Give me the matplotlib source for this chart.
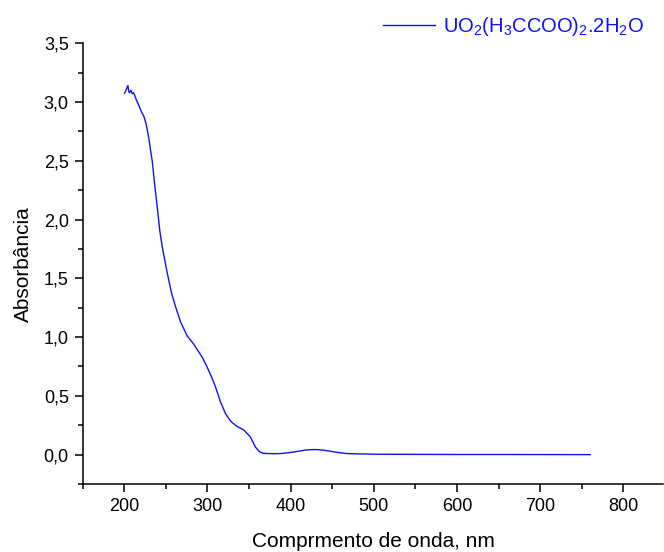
from matplotlib import pyplot as plt
from matplotlib.ticker import MultipleLocator, FuncFormatter
import numpy as np

plt.rcParams['font.family'] = ['Liberation Sans', 'DejaVu Sans']
plt.rcParams['mathtext.fontset'] = 'custom'
plt.rcParams['mathtext.rm'] = 'Liberation Sans'
plt.rcParams['mathtext.it'] = 'Liberation Sans'

# espectro UV-Vis do acetato de uranila
wavelength = np.array([
    200.4, 202.0, 204.4, 205.4, 206.4, 208.0, 209.6, 211.0, 212.4, 214.4,
    217.6, 220.4, 223.5, 226.4, 229.6, 231.6, 233.6, 236.8, 239.6, 242.8,
    245.6, 249.6, 253.6, 257.0, 261.6, 267.6, 275.6, 283.5, 293.6, 299.6,
    305.6, 310.0, 315.6, 321.6, 328.4, 335.6, 343.6, 351.6, 357.6, 362.8,
    367.0, 371.6, 380.0, 387.6, 395.0, 403.6, 411.0, 419.6, 427.5, 433.6,
    440.0, 450.0, 460.0, 467.6, 480.0, 507.6, 550.0, 600.0, 650.0, 700.0,
    760.0,
])
absorbance = np.array([
    3.075, 3.10, 3.14, 3.09, 3.08, 3.10, 3.07, 3.08, 3.06, 3.02,
    2.97, 2.92, 2.88, 2.81, 2.69, 2.59, 2.50, 2.28, 2.11, 1.90,
    1.77, 1.62, 1.48, 1.37, 1.26, 1.13, 1.01, 0.94, 0.83, 0.745,
    0.65, 0.57, 0.45, 0.35, 0.28, 0.24, 0.21, 0.15, 0.065, 0.022,
    0.012, 0.009, 0.008, 0.009, 0.014, 0.022, 0.031, 0.040, 0.043, 0.042,
    0.037, 0.026, 0.015, 0.009, 0.006, 0.003, 0.002, 0.001, 0.001, 0.0005,
    0.0,
])
legend_label = r'UO$_2$(H$_3$CCOO)$_2$.2H$_2$O'

fig = plt.figure(figsize=(6.64, 5.52), dpi=100)
ax = fig.add_axes([0.1245, 0.1232, 0.8745, 0.7984])

ax.plot(wavelength, absorbance, color='#1010ff', lw=1.0, label=legend_label)

ax.set_xlim(150, 848)
ax.set_ylim(-0.25, 3.5)
ax.xaxis.set_major_locator(MultipleLocator(100))
ax.xaxis.set_minor_locator(MultipleLocator(50))
ax.yaxis.set_major_locator(MultipleLocator(0.5))
ax.yaxis.set_minor_locator(MultipleLocator(0.25))
ax.yaxis.set_major_formatter(FuncFormatter(lambda v, p: f'{v:.1f}'.replace('.', ',')))

for s in ['top', 'right']:
    ax.spines[s].set_visible(False)
for s in ['left', 'bottom']:
    ax.spines[s].set_linewidth(1.1)

ax.tick_params(which='major', direction='out', length=6, width=1.1, labelsize=13, pad=4)
ax.tick_params(which='minor', direction='out', length=3.5, width=1.1)
ax.set_xticks([200, 300, 400, 500, 600, 700, 800])

ax.set_xlabel('Comprmento de onda, nm', fontsize=15, labelpad=12)
ax.set_ylabel('Absorbância', fontsize=15, labelpad=8)

fig.legend(loc='upper right', bbox_to_anchor=(0.997, 1.005), frameon=False,
           fontsize=14.5, labelcolor='#1010ff', handlelength=2.6, handletextpad=0.4)

fig.savefig('out.png', dpi=100)
